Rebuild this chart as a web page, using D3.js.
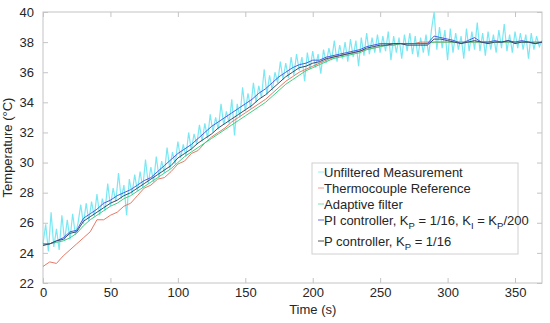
<!DOCTYPE html>
<html>
<head>
<meta charset="utf-8">
<script src="https://cdn.jsdelivr.net/npm/d3@7"></script>
<style>
  body { margin: 0; background: #fff; }
  svg { font-family: "Liberation Sans", Arial, sans-serif; }
</style>
</head>
<body>
<div id="chart"></div>
<script>
// sampling grids (s)
const timeSmooth = d3.range(0, 371, 5);
const timeRaw = d3.range(0, 371, 2);

// Unfiltered measurement, every 2 s
const unfiltered = [
  24.6, 25.9, 24.1, 26.7, 24.4, 25.6, 24.2, 26.5, 24.8, 26.2, 24.9, 26.6, 25.2, 26.0, 27.2, 25.9,
  27.3, 26.1, 27.4, 26.4, 27.9, 26.5, 27.6, 26.8, 28.6, 27.1, 28.3, 27.4, 29.3, 27.6, 28.5, 26.5,
  28.9, 27.9, 29.2, 28.1, 29.4, 28.3, 30.2, 28.6, 29.7, 28.7, 30.4, 29.0, 30.1, 29.3, 31.0, 29.6,
  30.7, 29.9, 31.4, 30.3, 31.2, 30.4, 32.0, 30.8, 31.9, 31.2, 32.5, 31.4, 32.6, 31.6, 33.2, 32.0,
  33.0, 32.2, 33.9, 32.5, 33.4, 32.6, 34.2, 31.8, 33.9, 33.0, 35.0, 33.4, 34.6, 33.6, 35.3, 34.0,
  35.1, 34.3, 36.2, 34.5, 35.8, 34.8, 36.0, 35.3, 36.7, 35.5, 36.6, 35.6, 37.0, 35.8, 37.2, 36.1,
  37.0, 35.4, 37.3, 36.2, 37.4, 36.3, 37.2, 35.9, 37.5, 36.6, 37.6, 36.8, 38.1, 36.7, 37.8, 36.9,
  38.0, 36.7, 38.2, 37.0, 38.1, 36.4, 38.3, 37.1, 38.6, 37.2, 38.3, 37.3, 38.5, 37.3, 38.4, 37.4,
  38.7, 36.8, 38.4, 37.3, 38.3, 36.9, 38.5, 37.4, 38.6, 37.2, 38.4, 37.0, 38.3, 37.3, 38.5, 37.1,
  38.8, 40.0, 37.5, 39.0, 37.6, 38.8, 36.8, 38.9, 37.3, 38.6, 37.5, 38.4, 36.9, 38.9, 37.4, 38.7,
  37.5, 39.3, 37.4, 38.6, 37.1, 38.7, 37.5, 38.5, 37.3, 38.8, 37.6, 39.2, 37.4, 38.5, 37.3, 38.7,
  37.6, 38.6, 37.5, 38.5, 36.9, 38.6, 37.5, 38.4, 37.7, 38.1
];

// Smooth traces, every 5 s
const thermocouple = [
  23.1, 23.4, 23.3, 23.8, 24.2, 24.6, 25.0, 25.4, 26.2, 26.2, 26.5, 26.7, 27.1, 27.3, 27.8, 28.3,
  28.5, 28.9, 29.0, 29.4, 29.9, 30.1, 30.6, 30.8, 31.3, 31.7, 32.0, 32.3, 32.7, 33.0, 33.3, 33.6,
  33.9, 34.2, 34.6, 35.0, 35.4, 35.7, 36.0, 36.2, 36.4, 36.6, 36.8, 37.0, 37.1, 37.2, 37.3, 37.4,
  37.5, 37.6, 37.7, 37.8, 37.8, 37.9, 37.9, 37.9, 38.0, 38.0, 38.0, 38.0, 38.0, 38.0, 38.0, 38.0,
  38.0, 38.0, 38.0, 38.0, 38.0, 38.0, 38.0, 38.0, 38.0, 38.0, 38.0
];
const adaptive = [
  24.5, 24.6, 24.7, 24.8, 25.0, 25.3, 25.8, 26.2, 26.5, 26.8, 27.1, 27.3, 27.6, 27.8, 28.1, 28.4,
  28.7, 29.0, 29.3, 29.6, 30.0, 30.4, 30.7, 31.0, 31.3, 31.6, 31.9, 32.2, 32.5, 32.8, 33.1, 33.4,
  33.7, 34.0, 34.4, 34.8, 35.2, 35.5, 35.8, 36.1, 36.3, 36.5, 36.7, 36.9, 37.0, 37.1, 37.2, 37.3,
  37.5, 37.6, 37.7, 37.8, 37.8, 37.9, 37.9, 37.9, 37.9, 37.9, 38.0, 38.0, 38.0, 38.0, 38.0, 38.0,
  38.0, 38.0, 38.0, 38.0, 38.0, 38.0, 38.0, 38.0, 38.0, 38.0, 38.0
];
const piCtrl = [
  24.6, 24.6, 24.8, 25.0, 25.4, 25.5, 26.3, 26.6, 26.9, 27.3, 27.5, 27.8, 28.0, 28.2, 28.5, 28.8,
  29.0, 29.4, 29.8, 30.2, 30.6, 30.9, 31.2, 31.6, 32.0, 32.4, 32.7, 33.0, 33.3, 33.6, 33.9, 34.2,
  34.6, 34.9, 35.3, 35.7, 36.0, 36.3, 36.5, 36.6, 36.8, 36.8, 37.0, 37.1, 37.2, 37.3, 37.4, 37.5,
  37.7, 37.8, 37.9, 37.9, 37.9, 37.9, 37.9, 37.9, 37.9, 37.9, 38.4, 38.3, 38.2, 38.1, 37.9, 38.1,
  38.3, 38.0, 38.0, 38.1, 38.0, 38.1, 38.0, 38.1, 38.0, 37.9, 38.0
];
const pCtrl = [
  24.5, 24.6, 24.8, 24.9, 25.3, 25.4, 26.1, 26.4, 26.7, 27.0, 27.3, 27.5, 27.8, 28.0, 28.3, 28.6,
  28.9, 29.2, 29.5, 29.8, 30.3, 30.6, 30.9, 31.3, 31.6, 31.9, 32.3, 32.6, 32.9, 33.2, 33.5, 33.8,
  34.2, 34.5, 34.9, 35.3, 35.7, 36.0, 36.3, 36.4, 36.6, 36.7, 36.9, 37.0, 37.1, 37.2, 37.3, 37.4,
  37.6, 37.7, 37.8, 37.8, 37.9, 37.9, 37.8, 37.8, 37.8, 37.8, 38.2, 38.2, 38.1, 38.0, 37.9, 38.0,
  38.1, 38.0, 37.9, 38.0, 38.0, 38.1, 37.9, 38.0, 38.0, 37.9, 38.0
];

const xTicks = [0, 50, 100, 150, 200, 250, 300, 350];
const yTicks = [22, 24, 26, 28, 30, 32, 34, 36, 38, 40];

const W = 550, H = 323;
const margin = { top: 12, right: 8, bottom: 40, left: 43 };
const width = W - margin.left - margin.right;
const height = H - margin.top - margin.bottom;

const svg = d3.select("#chart").append("svg")
  .attr("width", W)
  .attr("height", H);

const g = svg.append("g")
  .attr("transform", `translate(${margin.left},${margin.top})`);

const x = d3.scaleLinear().domain([0, 370]).range([0, width]);
const y = d3.scaleLinear().domain([22, 40]).range([height, 0]);

const axisColor = "#c4c4c4";
const textColor = "#262626";

// box
g.append("rect")
  .attr("width", width).attr("height", height)
  .attr("fill", "none").attr("stroke", axisColor).attr("stroke-width", 1);

// axes with inward ticks
function styleAxis(sel) {
  sel.select(".domain").remove();
  sel.selectAll(".tick line").attr("stroke", axisColor);
  sel.selectAll(".tick text").attr("fill", textColor).attr("font-size", "13px");
}
g.append("g").attr("transform", `translate(0,${height})`)
  .call(d3.axisBottom(x).tickValues(xTicks).tickSizeInner(-5).tickSizeOuter(0).tickPadding(5))
  .call(styleAxis);
g.append("g")
  .call(d3.axisTop(x).tickValues(xTicks).tickSizeInner(-5).tickSizeOuter(0).tickFormat(""))
  .call(styleAxis);
g.append("g")
  .call(d3.axisLeft(y).tickValues(yTicks).tickSizeInner(-5).tickSizeOuter(0).tickPadding(9))
  .call(styleAxis);
g.append("g").attr("transform", `translate(${width},0)`)
  .call(d3.axisRight(y).tickValues(yTicks).tickSizeInner(-5).tickSizeOuter(0).tickFormat(""))
  .call(styleAxis);

// series
const series = [
  { name: "Unfiltered Measurement", t: timeRaw, v: unfiltered, color: "#6ce6f2", w: 1.2, op: 0.9 },
  { name: "Thermocouple Reference", t: timeSmooth, v: thermocouple, color: "#e57a68", w: 1, op: 1 },
  { name: "Adaptive filter", t: timeSmooth, v: adaptive, color: "#3fcf80", w: 1, op: 1 },
  { name: "PI", t: timeSmooth, v: piCtrl, color: "#4a5ce6", w: 1, op: 1 },
  { name: "P", t: timeSmooth, v: pCtrl, color: "#3d4a66", w: 1, op: 1 }
];

const line = d3.line().x(d => x(d[0])).y(d => y(d[1]));
const plot = g.append("g");
series.forEach(s => {
  plot.append("path")
    .datum(s.t.map((t, i) => [t, s.v[i]]))
    .attr("d", line)
    .attr("fill", "none")
    .attr("stroke", s.color)
    .attr("stroke-width", s.w)
    .attr("stroke-opacity", s.op);
});

// axis labels
g.append("text")
  .attr("x", x(200)).attr("y", height + 31)
  .attr("text-anchor", "middle")
  .attr("font-size", "13px").attr("fill", textColor)
  .text("Time (s)");

g.append("text")
  .attr("transform", `translate(-31,${height / 2}) rotate(-90)`)
  .attr("text-anchor", "middle")
  .attr("font-size", "13px").attr("fill", textColor)
  .text("Temperature (°C)");

// legend
const lg = svg.append("g").attr("transform", "translate(312,163)");
lg.append("rect")
  .attr("width", 206).attr("height", 91)
  .attr("fill", "#fff").attr("stroke", "#d0d0d0");

const legendRows = [
  { y: 9, color: "#8ff0f6", parts: [["Unfiltered Measurement"]] },
  { y: 25, color: "#f09a8a", parts: [["Thermocouple Reference"]] },
  { y: 41, color: "#7fe0a8", parts: [["Adaptive filter"]] },
  { y: 57, color: "#6a6ae8", parts: [["PI controller, K"], ["P", 1], [" = 1/16, K"], ["I", 1], [" = K"], ["P", 1], ["/200"]] },
  { y: 78, color: "#555", parts: [["P controller, K"], ["P", 1], [" = 1/16"]] }
];

legendRows.forEach(r => {
  lg.append("line")
    .attr("x1", 6).attr("x2", 12)
    .attr("y1", r.y).attr("y2", r.y)
    .attr("stroke", r.color).attr("stroke-width", 1);
  const t = lg.append("text")
    .attr("x", 12).attr("y", r.y + 4.5)
    .attr("font-size", "13px").attr("fill", textColor);
  let sub = false;
  r.parts.forEach(p => {
    const isSub = p[1] === 1;
    const ts = t.append("tspan").text(p[0]);
    if (isSub) ts.attr("font-size", "9.5px").attr("dy", 4);
    else if (sub) ts.attr("dy", -4);
    sub = isSub;
  });
});
</script>
</body>
</html>
